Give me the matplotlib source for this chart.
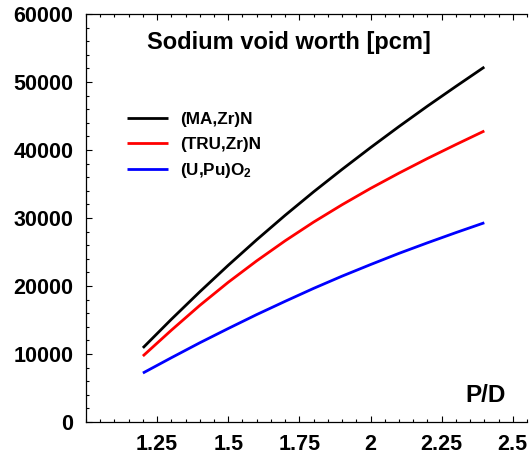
import matplotlib
matplotlib.use("Agg")
import matplotlib.pyplot as plt
from matplotlib.ticker import MultipleLocator

plt.rcParams['font.family'] = ['Liberation Sans', 'DejaVu Sans']
plt.rcParams['font.weight'] = 'bold'
plt.rcParams['mathtext.fontset'] = 'custom'
plt.rcParams['mathtext.rm'] = 'Liberation Sans:bold'
plt.rcParams['mathtext.it'] = 'Liberation Sans:bold'
plt.rcParams['mathtext.bf'] = 'Liberation Sans:bold'

pd_ratio = [1.2, 1.3, 1.4, 1.5, 1.6, 1.7, 1.8, 1.9, 2.0, 2.1, 2.2, 2.3, 2.4]
ma_zr_n = [10900, 15100, 19150, 23050, 26800, 30400, 33850, 37150, 40350, 43450, 46450, 49350, 52200]
tru_zr_n = [9700, 13500, 17150, 20550, 23700, 26650, 29400, 31950, 34350, 36600, 38750, 40800, 42800]
u_pu_o2 = [7200, 9450, 11650, 13750, 15800, 17750, 19650, 21450, 23150, 24800, 26350, 27850, 29300]

series_labels = ['(MA,Zr)N', '(TRU,Zr)N', r'(U,Pu)O$_2$']
series_colors = ['#000000', '#ff0000', '#0000ff']

x_ticks = [1.25, 1.5, 1.75, 2.0, 2.25, 2.5]
x_tick_labels = ['1.25', '1.5', '1.75', '2', '2.25', '2.5']
y_ticks = [0, 10000, 20000, 30000, 40000, 50000, 60000]

W, H = 531, 458
fig = plt.figure(figsize=(W / 100, H / 100), dpi=100)
ax = fig.add_axes([86 / W, 1 - 422 / H, (527 - 86) / W, (422 - 14) / H])

for ys, lab, col in zip([ma_zr_n, tru_zr_n, u_pu_o2], series_labels, series_colors):
    ax.plot(pd_ratio, ys, color=col, lw=2.0, label=lab, solid_capstyle='butt')

ax.set_xlim(1.0, 2.55)
ax.set_ylim(0, 60000)
ax.set_xticks(x_ticks)
ax.set_xticklabels(x_tick_labels)
ax.set_yticks(y_ticks)
ax.set_yticklabels([str(v) for v in y_ticks])
ax.xaxis.set_minor_locator(MultipleLocator(0.05))
ax.yaxis.set_minor_locator(MultipleLocator(2000))

ax.spines['right'].set_visible(False)
for s in ['left', 'bottom', 'top']:
    ax.spines[s].set_linewidth(0.9)

ax.tick_params(which='both', direction='in', top=True, right=False, width=0.8)
ax.tick_params(which='major', length=4, labelsize=15.5, pad=9)
ax.tick_params(which='minor', length=2)
for t in ax.get_xticklabels() + ax.get_yticklabels():
    t.set_fontweight('bold')

leg = ax.legend(loc='upper left', bbox_to_anchor=(112 / W, 1 - 97 / H),
                bbox_transform=fig.transFigure, frameon=False,
                prop={'size': 12.3, 'weight': 'bold'},
                handlelength=2.35, handletextpad=0.75, labelspacing=0.55)

fig.text(147 / W, 1 - 42 / H, 'Sodium void worth [pcm]', fontsize=17,
         fontweight='bold', ha='left', va='center')
fig.text(465 / W, 1 - 396 / H, 'P/D', fontsize=17.5, fontweight='bold',
         ha='left', va='center')

fig.savefig('out.png', dpi=100)
